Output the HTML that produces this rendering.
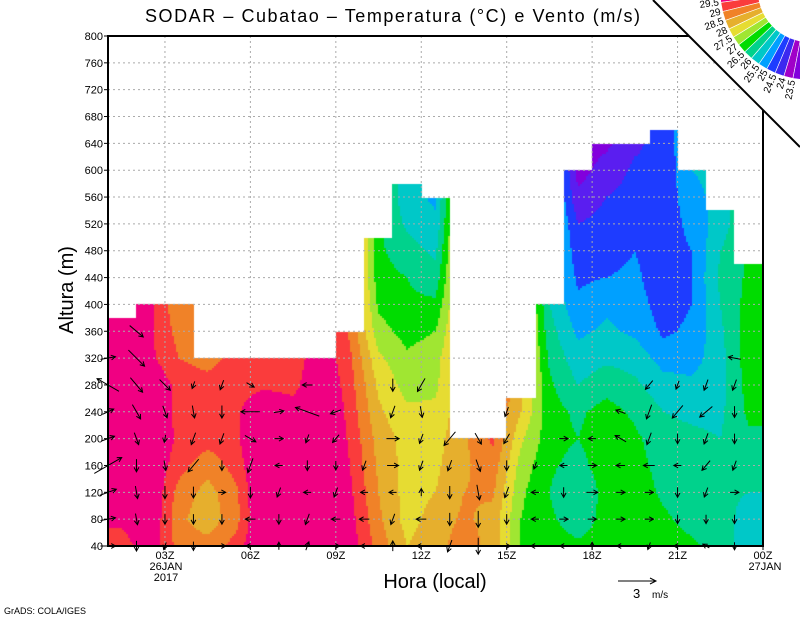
<!DOCTYPE html>
<html><head><meta charset="utf-8">
<style>
html,body{margin:0;padding:0;background:#fff;}
#wrap{position:relative;width:800px;height:618px;overflow:hidden;font-family:"Liberation Sans",sans-serif;}
#field{position:absolute;left:108px;top:36px;}
svg{position:absolute;left:0;top:0;}
</style></head>
<body>
<div id="wrap">
<canvas id="field" width="655" height="510"></canvas>
<svg id="svg" width="800" height="618"></svg>
</div>
<script>
// ---- data ----
const levels = [40,80,120,160,200,240,280,320,360,400,440,480,520,560,600,640];
const colTops = [380,400,400,320,320,320,320,320,360,500,580,560,200,200,260,400,600,640,640,660,600,540,460];
const temp = [
[29.3,29.6,29.8,30,30,30,30,30,30,30],
[29.8,30,30,30,30,30,30,29.6,29.6,29.6],
[28.8,28.6,28.8,29.2,29.4,29.3,29.3,29.0,28.8,28.6],
[28.7,28.2,28.3,28.7,29.2,29.3,29.2,28.8],
[29.2,28.8,28.9,29.2,29.4,29.4,29.3,29.2],
[30.3,30.3,30.3,30.3,30.2,30.0,29.4,29.3],
[30.3,30.3,30.3,30.3,30.3,29.8,29.3,29.2],
[30.3,30.3,30.3,30.3,30.3,30.3,30.1,29.9],
[29.8,29.7,29.6,29.5,29.4,29.3,29.2,29.1,28.9],
[28.8,28.6,28.5,28.4,28.3,28.1,27.9,27.6,27.2,26.9,26.7,26.6],
[28.0,27.8,27.8,27.8,27.8,27.6,27.3,27.1,26.8,26.6,26.5,26.2,25.9,25.7],
[28.3,28.2,28.0,27.9,27.8,27.6,27.4,27.3,27.0,26.6,26.2,25.9,25.6,25.4],
[28.8,28.6,28.5,28.4,28.4],
[28.3,28.3,28.6,28.8,29.1],
[27.0,27.0,27.1,27.3,27.6,28.0,28.2],
[26.8,26.6,26.5,26.6,26.7,26.7,26.6,26.4,26.2,26.0],
[26.6,26.2,26.0,26.3,26.5,26.4,26.0,25.7,25.4,25.1,24.9,24.7,24.5,24.1,23.8],
[26.7,26.7,26.7,26.8,26.8,26.7,26.3,25.9,25.6,25.4,25.0,24.8,24.7,24.5,24.2,23.9],
[26.7,26.8,26.8,26.7,26.6,26.4,26.1,25.8,25.4,25.2,25.1,25.0,24.8,24.7,24.6,24.4],
[26.8,26.6,26.4,26.3,26.2,26.0,25.7,25.3,24.9,24.8,24.7,24.7,24.6,24.6,24.6,24.7],
[26.6,26.3,26.2,26.2,26.1,25.9,25.6,25.3,25.1,25.0,25.0,25.0,25.2,25.4,25.5],
[26.3,26.2,26.1,26.1,26.0,25.9,25.8,25.8,25.9,26.0,26.1,26.0,25.7,25.6],
[25.7,25.8,26.0,26.2,26.4,26.6,26.7,26.8,26.8,26.7,26.6,26.6]
];
const edges = [24,24.5,25,25.5,26,26.5,27,27.5,28,28.5,29,29.5];
const fillColors = ['#8200dc','#5a1ef0','#1e3cff','#00a0ff','#00c8c8','#00d28c','#00dc00','#a0e632','#e6dc32','#e6af2d','#f08228','#fa3c3c','#f00082'];
const legendLabels = ['29.5','29','28.5','28','27.5','27','26.5','26','25.5','25','24.5','24','23.5'];
const legendColors = ['#f00082','#fa3c3c','#f08228','#e6af2d','#e6dc32','#a0e632','#00dc00','#00d28c','#00c8c8','#00a0ff','#1e3cff','#3c28f0','#a000c8','#8200dc'];
// wind: hour (1..23), directions (deg, 0=up, clockwise) and speeds (m/s) at 40m steps from 40
const windHours = [1,2,3,4,5,6,7,8,9,10,11,12,13,14,15,16,17,18,19,20,21,22,23];
const windDir = [
[90,80,70,60,70,65,300,80],
[180,170,170,180,160,150,140,135,130],
[200,180,180,170,190,160,135],
[180,180,180,220,200,170,200],
[90,180,90,180,200,180,200],
[270,270,180,200,120,270,120],
[0,180,200,270,90,80],
[20,200,270,180,200,290,270],
[90,270,200,180,220,250],
[270,270,270,200],
[0,200,270,90,90,200,180],
[270,270,0,200,200,170,210],
[200,180,180,200,220],
[180,180,170,160,150],
[90,180,200,180,210,200],
[270,270,270,200],
[270,90,180,270,90],
[0,90,90,90,270],
[270,90,90,270,300,290],
[200,90,90,270,200,200,220],
[270,180,180,270,180,220,200],
[300,180,200,220,200,230,200],
[180,180,90,200,180,180,200,280]
];
const windSpd = [
[1.2,1.2,1.4,2.5,1.1,1.0,2.0,1.2],
[0.8,0.9,1.0,1.0,1.0,1.3,1.5,1.8,1.4],
[0.6,0.8,1.0,0.8,0.6,1.0,1.2],
[0.7,0.8,0.9,1.3,1.0,1.0,0.6],
[0.6,0.8,0.6,0.8,0.9,1.0,0.8],
[0.7,0.8,0.9,1.2,1.0,1.5,0.7],
[0.6,0.8,0.8,0.6,0.7,0.8],
[0.7,0.9,0.6,0.8,0.7,2.0,0.8],
[0.6,0.7,0.8,0.7,0.8,0.9],
[0.6,0.8,0.6,0.8],
[0.8,0.9,0.6,0.9,1.0,1.0,1.0],
[0.7,0.8,0.6,0.8,0.8,0.9,1.2],
[1.0,1.0,1.0,0.9,1.4],
[1.3,1.3,1.2,1.0,1.0],
[0.6,0.8,0.9,0.8,0.9,0.8],
[0.7,0.6,0.6,0.6],
[0.6,0.7,0.8,0.6,0.7],
[0.6,0.7,0.9,0.7,0.6],
[0.6,0.7,0.7,0.7,1.0,0.8],
[0.6,0.7,0.7,0.9,1.0,1.2,0.9],
[0.6,0.7,0.8,0.6,0.8,1.3,0.7],
[0.6,0.7,0.8,1.0,0.9,1.3,0.9],
[0.6,0.7,0.7,0.8,0.8,0.9,0.9,1.0]
];
const yTicks = [40,80,120,160,200,240,280,320,360,400,440,480,520,560,600,640,680,720,760,800];
const xTickHours = [3,6,9,12,15,18,21,24];
const xTickLabels = ['03Z','06Z','09Z','12Z','15Z','18Z','21Z','00Z'];

// ---- axes ----
const X0=108, X1=763, Y0=546, Y1=36;
function xs(t){return X0+(t-1)*(X1-X0)/23;}
function ys(h){return Y0-(h-40)*(Y0-Y1)/760;}
function colorFor(v){let i=0;while(i<edges.length&&v>=edges[i])i++;return fillColors[i];}
function tempAt(c,h){const p=temp[c];let f=(h-40)/40;if(f<=0)return p[0];if(f>=p.length-1)return p[p.length-1];const i=Math.floor(f),r=f-i;return p[i]*(1-r)+p[i+1]*r;}

// ---- field ----
const cv=document.getElementById('field'),ctx=cv.getContext('2d');
const B=2;
for(let px=0;px<655;px+=B){
  const t=1+(px+B/2)*23/655;
  const c=Math.min(22,Math.floor(t-1));
  const top=colTops[c];
  const fc=t-1.5;
  let c0=Math.floor(fc),r=fc-c0;
  if(c0<0){c0=0;r=0;} if(c0>=22){c0=21;r=1;}
  for(let py=0;py<510;py+=B){
    const h=40+(510-(py+B/2))*760/510;
    if(h>top)continue;
    const v=tempAt(c0,Math.min(h,colTops[c0]+20))*(1-r)+tempAt(c0+1,Math.min(h,colTops[c0+1]+20))*r;
    ctx.fillStyle=colorFor(v);
    ctx.fillRect(px,py,B,B);
  }
}

// ---- svg ----
const NS='http://www.w3.org/2000/svg';
const svg=document.getElementById('svg');
function el(tag,attrs,parent){const e=document.createElementNS(NS,tag);for(const k in attrs)e.setAttribute(k,attrs[k]);(parent||svg).appendChild(e);return e;}

const grid=el('g',{});


yTicks.forEach(h=>{if(h>40&&h<800){const l=el('line',{x1:X0,x2:X1,y1:ys(h),y2:ys(h),stroke:'#aaa','stroke-dasharray':'2,3','stroke-width':1},grid);

}});
xTickHours.forEach(t=>{if(t<24){const l=el('line',{x1:xs(t),x2:xs(t),y1:Y1,y2:Y0,stroke:'#aaa','stroke-dasharray':'2,3','stroke-width':1},grid);

}});

// wind arrows
const wg=el('g',{stroke:'#000','stroke-width':1,fill:'none'});


const PXMS=38/3;
windHours.forEach((hr,i)=>{
  windDir[i].forEach((d,j)=>{
    const h=40+j*40; const cx=xs(hr), cy=ys(h);
    const L=windSpd[i][j]*PXMS; const a=d*Math.PI/180;
    const dx=Math.sin(a)*L, dy=-Math.cos(a)*L;
    const x1=cx-dx/2,y1=cy-dy/2,x2=cx+dx/2,y2=cy+dy/2;
    const hl=5, ang=Math.atan2(y2-y1,x2-x1);
    const p=`M${x1},${y1}L${x2},${y2}M${x2-hl*Math.cos(ang-0.5)},${y2-hl*Math.sin(ang-0.5)}L${x2},${y2}L${x2-hl*Math.cos(ang+0.5)},${y2-hl*Math.sin(ang+0.5)}`;
    const e=el('path',{d:p},wg);
    
    
  });
});

// frame
const fr=el('rect',{x:X0,y:Y1,width:X1-X0,height:Y0-Y1,fill:'none',stroke:'#000','stroke-width':2});



// y ticks
yTicks.forEach(h=>{
  const t=el('text',{x:103,y:ys(h)+4,'text-anchor':'end','font-size':11,fill:'#000'});
  t.textContent=String(h);
  
  
  const tk=el('line',{x1:X0-4,x2:X0,y1:ys(h),y2:ys(h),stroke:'#000'});
  
  
});
xTickHours.forEach((t,i)=>{
  const tx=el('text',{x:xs(t),y:559,'text-anchor':'middle','font-size':11,fill:'#000'});
  tx.textContent=xTickLabels[i];
  
  
  const tk=el('line',{x1:xs(t),x2:xs(t),y1:Y0,y2:Y0+4,stroke:'#000'});
  
  
});
</script>
<svg width="800" height="618" style="position:absolute;left:0;top:0;pointer-events:none">
<text x="166" y="570" text-anchor="middle" font-size="11" font-family="Liberation Sans">26JAN</text>
<text x="166" y="581" text-anchor="middle" font-size="11" font-family="Liberation Sans">2017</text>
<text x="765" y="570" text-anchor="middle" font-size="11" font-family="Liberation Sans">27JAN</text>
<text x="145" y="22" font-size="18" font-family="Liberation Sans" textLength="495" lengthAdjust="spacing">SODAR – Cubatao – Temperatura (°C) e Vento (m/s)</text>
<text x="435" y="588" text-anchor="middle" font-size="20" font-family="Liberation Sans">Hora (local)</text>
<text transform="translate(73,290) rotate(-90)" text-anchor="middle" font-size="20" font-family="Liberation Sans">Altura (m)</text>
<text x="4" y="614" font-size="9" font-family="Liberation Sans">GrADS: COLA/IGES</text>
<g>
<path d="M618,581L656,581M650,578L656,581L650,584" stroke="#000" fill="none"/>
<text x="633" y="598" font-size="13" font-family="Liberation Sans">3</text>
<text x="652" y="598" font-size="10" font-family="Liberation Sans">m/s</text>
</g>
<g id="legend">
<polygon points="653,0 800,0 800,147" fill="#fff"/>
<line x1="653" y1="0" x2="800" y2="147" stroke="#000" stroke-width="2"/>
<text x="778" y="46" font-size="11" font-family="Liberation Sans">°C</text>
</g>
</svg>
<script>
(function(){
  const NS='http://www.w3.org/2000/svg';
  const g=document.getElementById('legend');
  const cx=810, cy=-10, r0=52, r1=90;
  const a0=178, a1=95, n=legendColors.length, step=(a0-a1)/n;
  function pt(r,a){const t=a*Math.PI/180;return [cx+r*Math.cos(t),cy+r*Math.sin(t)];}
  for(let i=0;i<n;i++){
    const s=a0-i*step,e=s-step;
    const p1=pt(r0,s),p2=pt(r1,s),p3=pt(r1,e),p4=pt(r0,e);
    const p=document.createElementNS(NS,'path');
    p.setAttribute('d',`M${p1}L${p2}L${p3}L${p4}Z`);
    p.setAttribute('fill',legendColors[i]);
    p.setAttribute('stroke','#fff');
    p.setAttribute('stroke-width','0.6');
    
    
    g.appendChild(p);
  }
  legendLabels.forEach((lab,i)=>{
    const a=a0-(i+1)*step; const q=pt(r1+2,a);
    const t=document.createElementNS(NS,'text');
    t.setAttribute('x',q[0]);t.setAttribute('y',q[1]);
    t.setAttribute('text-anchor','end');
    t.setAttribute('font-size','10');
    t.setAttribute('font-family','Liberation Sans');
    t.setAttribute('dominant-baseline','middle');
    t.setAttribute('transform',`rotate(${a-180} ${q[0]} ${q[1]})`);
    t.textContent=lab;
    
    
    g.appendChild(t);
  });
})();
</script>
</body></html>
